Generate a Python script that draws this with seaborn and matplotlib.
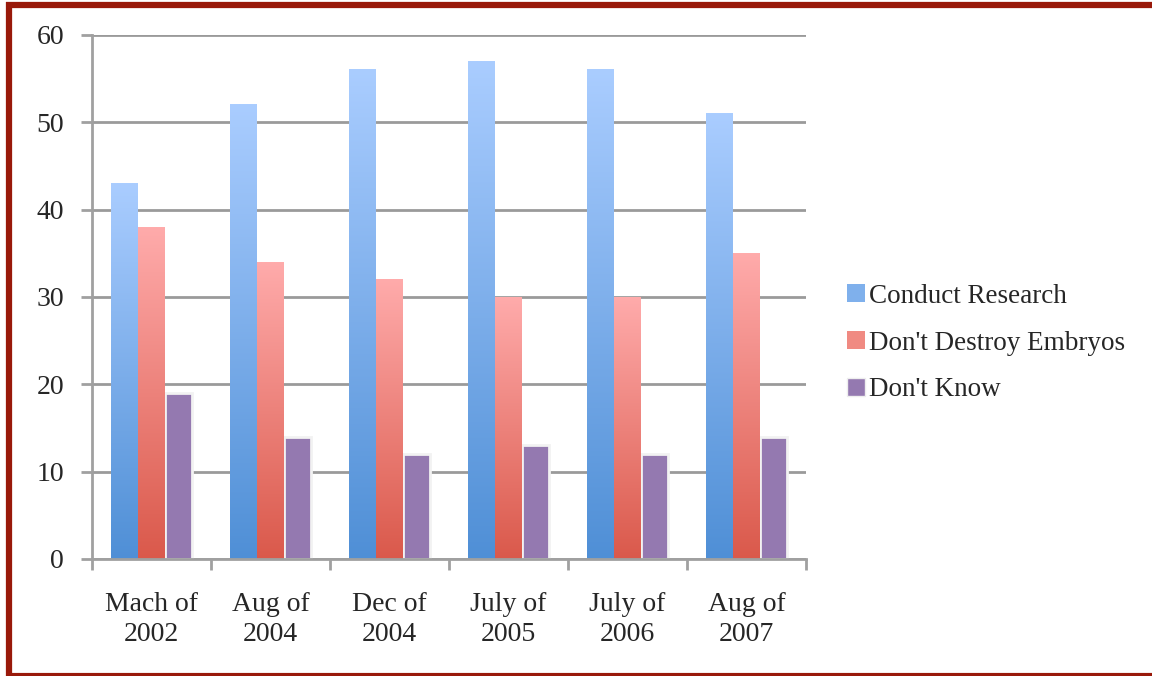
import numpy as np
import pandas as pd
import matplotlib
matplotlib.use('Agg')
import matplotlib.pyplot as plt
import matplotlib.colors as mcolors
from matplotlib.patches import Patch
from matplotlib.lines import Line2D
import seaborn as sns

# Data
tanggal = ['Mach of\n2002', 'Aug of\n2004', 'Dec of\n2004',
           'July of\n2005', 'July of\n2006', 'Aug of\n2007']
riset = [43, 52, 56, 57, 56, 51]
jangan_rusak = [38, 34, 32, 30, 30, 35]
tidak_tahu = [19, 14, 12, 13, 12, 14]
seri = ['Conduct Research', "Don't Destroy Embryos", "Don't Know"]

data = pd.DataFrame({
    'tanggal': tanggal * 3,
    'nilai': riset + jangan_rusak + tidak_tahu,
    'seri': [seri[0]] * 6 + [seri[1]] * 6 + [seri[2]] * 6,
})

sns.set_style('white')
plt.rcParams['font.family'] = ['Liberation Serif', 'DejaVu Serif']

warna = {seri[0]: '#7fb0ec', seri[1]: '#f08a82', seri[2]: '#9479b0'}
gradien = {
    seri[0]: ('#4f8fd6', '#aacdff'),
    seri[1]: ('#da594b', '#ffabab'),
}

fig = plt.figure(figsize=(11.52, 6.76), dpi=100)
ax = fig.add_axes([92 / 1152, 1 - 559 / 676, 714 / 1152, 524 / 676])

sns.barplot(data=data, x='tanggal', y='nilai', hue='seri', palette=warna,
            width=0.68, ax=ax, legend=False, saturation=1)

ax.set_ylim(0, 60)
ax.set_xlim(-0.5, 5.5)

# gradien untuk batang biru dan merah, ungu tetap polos
bars = ax.patches
for i, p in enumerate(bars):
    nama = seri[i // 6]
    if nama in gradien:
        x0, y0 = p.get_x(), p.get_y()
        w, h = p.get_width(), p.get_height()
        cmap = mcolors.LinearSegmentedColormap.from_list('g', list(gradien[nama]))
        grad = np.linspace(0, 1, 256).reshape(-1, 1)
        ax.imshow(grad, extent=[x0, x0 + w, y0, y0 + h], origin='lower',
                  aspect='auto', cmap=cmap, zorder=p.get_zorder() + 0.1)
        p.set_edgecolor('none')
    else:
        p.set_edgecolor('#f2f2f2')
        p.set_linewidth(2)

ax.set_ylim(0, 60)
ax.set_xlim(-0.5, 5.5)

ax.yaxis.grid(True, color='#9a9a9a', linewidth=2)
ax.set_axisbelow(True)
for s in ['top', 'right']:
    ax.spines[s].set_visible(False)
for s in ['left', 'bottom']:
    ax.spines[s].set_color('#a0a0a0')
    ax.spines[s].set_linewidth(2)

ax.set_yticks(range(0, 61, 10))
ax.tick_params(axis='y', length=8, width=2, color='#a0a0a0', labelsize=20, pad=12, left=True)
ax.set_xticks(range(6))
ax.set_xticklabels(tanggal)
ax.set_xticks(np.arange(-0.5, 6, 1), minor=True)
ax.tick_params(axis='x', which='major', length=0, labelsize=20, pad=24)
ax.tick_params(axis='x', which='minor', length=8, width=2, color='#a0a0a0', bottom=True)
for t in ax.get_xticklabels():
    t.set_linespacing(1.25)
ax.set_xlabel('')
ax.set_ylabel('')

# legenda
handles = [Patch(facecolor='#7fb0ec', edgecolor='none'),
           Patch(facecolor='#f08a82', edgecolor='none'),
           Patch(facecolor='#9479b0', edgecolor='#eeeeee')]
fig.legend(handles, seri, loc='center left', bbox_to_anchor=(823 / 1152, 1 - 343 / 676),
           frameon=False, fontsize=19.5, handlelength=0.65, handleheight=0.65,
           handletextpad=0.15, labelspacing=0.8)

# bingkai merah
merah = '#99190a'
fig.add_artist(Line2D([6 / 1152, 1], [1 - 5 / 676, 1 - 5 / 676], color=merah, lw=4.5,
                      transform=fig.transFigure, solid_capstyle='butt'))
fig.add_artist(Line2D([9 / 1152, 9 / 1152], [0, 1 - 2 / 676], color=merah, lw=4.5,
                      transform=fig.transFigure, solid_capstyle='butt'))
fig.add_artist(Line2D([6 / 1152, 1], [1.5 / 676, 1.5 / 676], color=merah, lw=3,
                      transform=fig.transFigure, solid_capstyle='butt'))

fig.savefig('out.png', dpi=100)
